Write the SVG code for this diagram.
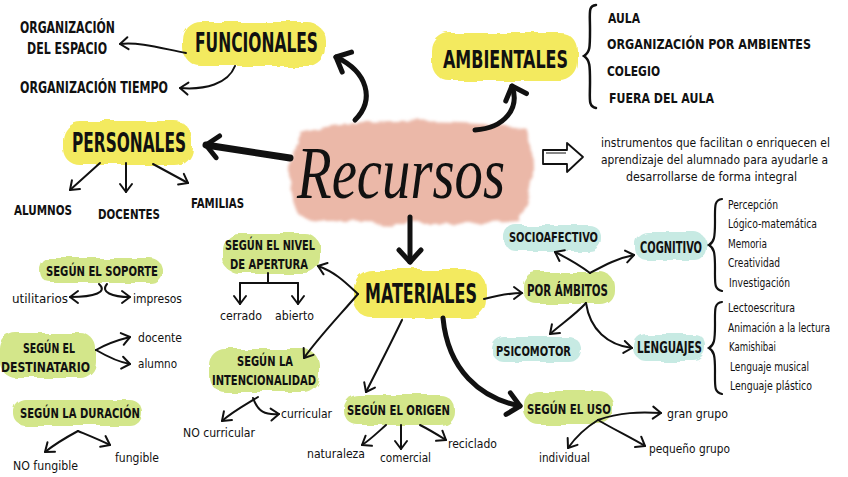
<svg xmlns="http://www.w3.org/2000/svg" width="848" height="477" viewBox="0 0 848 477">
<defs>
<filter id="rough" x="-10%" y="-20%" width="120%" height="140%">
<feTurbulence type="fractalNoise" baseFrequency="0.05" numOctaves="2" seed="3"/>
<feDisplacementMap in="SourceGraphic" scale="7"/>
</filter>
<filter id="roughp" x="-10%" y="-20%" width="120%" height="140%">
<feTurbulence type="fractalNoise" baseFrequency="0.04" numOctaves="3" seed="7"/>
<feDisplacementMap in="SourceGraphic" scale="12"/>
<feGaussianBlur stdDeviation="1.5"/>
</filter>
<marker id="hs" markerUnits="userSpaceOnUse" markerWidth="20" markerHeight="20" refX="0" refY="0" viewBox="-12 -10 20 20" orient="auto" overflow="visible">
<path d="M-8,-6 L0,0 L-8,6" fill="none" stroke="#111" stroke-width="2" stroke-linecap="round" stroke-linejoin="round"/>
</marker>
<marker id="hb" markerUnits="userSpaceOnUse" markerWidth="30" markerHeight="30" refX="0" refY="0" viewBox="-20 -15 30 30" orient="auto" overflow="visible">
<path d="M-12,-11 L0,0 L-12,11" fill="none" stroke="#111" stroke-width="5" stroke-linecap="round" stroke-linejoin="round"/>
</marker>
<style>
.y{fill:#f3ea5f;filter:url(#rough)}
.g{fill:#d3e68a;filter:url(#rough)}
.t{fill:#c7eae3;filter:url(#rough)}
.p{fill:#ebb8a8;filter:url(#roughp)}
.h{font-family:"DejaVu Sans Condensed","DejaVu Sans",sans-serif;font-weight:bold;fill:#111}
.c{font-family:"DejaVu Sans Condensed","DejaVu Sans",sans-serif;fill:#111}
.s{fill:none;stroke:#111;stroke-width:2;stroke-linecap:round;marker-end:url(#hs)}
.b{fill:none;stroke:#111;stroke-width:5;stroke-linecap:round;marker-end:url(#hb)}
.l{fill:none;stroke:#111;stroke-width:2;stroke-linecap:round}
</style>
</defs>
<rect width="848" height="477" fill="#fff"/>

<g id="recursos">
<path class="p" d="M300,132 C340,120 470,118 526,128 C538,160 534,200 518,220 C450,226 340,226 300,216 C288,190 288,160 300,132 Z"/>
<text x="297" y="198" font-family="Liberation Serif,serif" font-style="italic" font-size="74" textLength="208" lengthAdjust="spacingAndGlyphs" fill="#111">Recursos</text>
</g>

<g id="funcionales">
<rect class="y" x="183" y="22" width="142" height="44" rx="18"/>
<text class="h" x="195" y="52" font-size="26" textLength="123" lengthAdjust="spacingAndGlyphs">FUNCIONALES</text>
</g>
<g id="org-espacio">
<text class="h" x="20" y="33" font-size="15" textLength="95" lengthAdjust="spacingAndGlyphs">ORGANIZACIÓN</text>
<text class="h" x="27" y="54" font-size="15" textLength="80" lengthAdjust="spacingAndGlyphs">DEL ESPACIO</text>
</g>
<g id="org-tiempo">
<text class="h" x="20" y="93" font-size="15" textLength="148" lengthAdjust="spacingAndGlyphs">ORGANIZACIÓN TIEMPO</text>
</g>

<g id="ambientales">
<rect class="y" x="432" y="33" width="146" height="48" rx="18"/>
<text class="h" x="443" y="68" font-size="24" textLength="125" lengthAdjust="spacingAndGlyphs">AMBIENTALES</text>
</g>
<g id="ambientales-lista">
<path class="l" d="M596,5 C588,6 590,12 590,30 C590,48 590,52 584,56 C590,60 590,66 590,82 C590,100 588,106 596,108" style="stroke-width:2.5"/>
<text class="h" x="608" y="23" font-size="13.5" textLength="32" lengthAdjust="spacingAndGlyphs">AULA</text>
<text class="h" x="607" y="49" font-size="13.5" textLength="204" lengthAdjust="spacingAndGlyphs">ORGANIZACIÓN POR AMBIENTES</text>
<text class="h" x="607" y="76" font-size="13.5" textLength="53" lengthAdjust="spacingAndGlyphs">COLEGIO</text>
<text class="h" x="609" y="103" font-size="13.5" textLength="105" lengthAdjust="spacingAndGlyphs">FUERA DEL AULA</text>
</g>

<g id="personales">
<rect class="y" x="62" y="121" width="130" height="44" rx="18"/>
<text class="h" x="72" y="152" font-size="26" textLength="114" lengthAdjust="spacingAndGlyphs">PERSONALES</text>
</g>
<g id="alumnos"><text class="h" x="14" y="215" font-size="14" textLength="58" lengthAdjust="spacingAndGlyphs">ALUMNOS</text></g>
<g id="docentes"><text class="h" x="98" y="219" font-size="14" textLength="62" lengthAdjust="spacingAndGlyphs">DOCENTES</text></g>
<g id="familias"><text class="h" x="191" y="208" font-size="14" textLength="53" lengthAdjust="spacingAndGlyphs">FAMILIAS</text></g>

<g id="definicion">
<path d="M543,150 L567,150 L567,143 L583,157 L567,172 L567,164 L543,164 Z" fill="#fff" stroke="#111" stroke-width="1.8" stroke-linejoin="round"/>
<path d="M546,153 L566,153" stroke="#111" stroke-width="1" fill="none"/>
<text class="c" x="601" y="147" font-size="13" textLength="229" lengthAdjust="spacingAndGlyphs">instrumentos que facilitan o enriquecen el</text>
<text class="c" x="601" y="164" font-size="13" textLength="227" lengthAdjust="spacingAndGlyphs">aprendizaje del alumnado para ayudarle a</text>
<text class="c" x="626" y="181" font-size="13" textLength="171" lengthAdjust="spacingAndGlyphs">desarrollarse de forma integral</text>
</g>

<g id="materiales">
<rect class="y" x="354" y="270" width="132" height="48" rx="18"/>
<text class="h" x="365" y="303" font-size="26" textLength="112" lengthAdjust="spacingAndGlyphs">MATERIALES</text>
</g>

<g id="nivel-apertura">
<rect class="g" x="222" y="233" width="98" height="40" rx="16"/>
<text class="h" x="225" y="250" font-size="14" textLength="90" lengthAdjust="spacingAndGlyphs">SEGÚN EL NIVEL</text>
<text class="h" x="230" y="269" font-size="14" textLength="78" lengthAdjust="spacingAndGlyphs">DE APERTURA</text>
</g>
<g id="cerrado"><text class="c" x="220" y="320" font-size="13" textLength="42" lengthAdjust="spacingAndGlyphs">cerrado</text></g>
<g id="abierto"><text class="c" x="275" y="320" font-size="13" textLength="39" lengthAdjust="spacingAndGlyphs">abierto</text></g>

<g id="intencionalidad">
<rect class="g" x="209" y="349" width="110" height="43" rx="16"/>
<text class="h" x="237" y="366" font-size="14" textLength="56" lengthAdjust="spacingAndGlyphs">SEGÚN LA</text>
<text class="h" x="212" y="385" font-size="14" textLength="104" lengthAdjust="spacingAndGlyphs">INTENCIONALIDAD</text>
</g>
<g id="curricular"><text class="c" x="281" y="418" font-size="13" textLength="51" lengthAdjust="spacingAndGlyphs">curricular</text></g>
<g id="no-curricular"><text class="c" x="183" y="437" font-size="13" textLength="72" lengthAdjust="spacingAndGlyphs">NO curricular</text></g>

<g id="origen">
<rect class="g" x="344" y="395" width="110" height="30" rx="14"/>
<text class="h" x="347" y="415" font-size="14" textLength="103" lengthAdjust="spacingAndGlyphs">SEGÚN EL ORIGEN</text>
</g>
<g id="naturaleza"><text class="c" x="307" y="458" font-size="13" textLength="58" lengthAdjust="spacingAndGlyphs">naturaleza</text></g>
<g id="comercial"><text class="c" x="380" y="462" font-size="13" textLength="51" lengthAdjust="spacingAndGlyphs">comercial</text></g>
<g id="reciclado"><text class="c" x="448" y="448" font-size="13" textLength="49" lengthAdjust="spacingAndGlyphs">reciclado</text></g>

<g id="uso">
<rect class="g" x="524" y="391" width="89" height="33" rx="14"/>
<text class="h" x="527" y="414" font-size="14" textLength="84" lengthAdjust="spacingAndGlyphs">SEGÚN EL USO</text>
</g>
<g id="gran-grupo"><text class="c" x="667" y="418" font-size="13" textLength="61" lengthAdjust="spacingAndGlyphs">gran grupo</text></g>
<g id="pequeno-grupo"><text class="c" x="649" y="453" font-size="13" textLength="81" lengthAdjust="spacingAndGlyphs">pequeño grupo</text></g>
<g id="individual"><text class="c" x="539" y="462" font-size="13" textLength="51" lengthAdjust="spacingAndGlyphs">individual</text></g>

<g id="por-ambitos">
<rect class="g" x="523" y="272" width="91" height="32" rx="14"/>
<text class="h" x="527" y="296" font-size="15" textLength="81" lengthAdjust="spacingAndGlyphs">POR ÁMBITOS</text>
</g>
<g id="socioafectivo">
<rect class="t" x="504" y="225" width="97" height="26" rx="12"/>
<text class="h" x="509" y="242" font-size="14" textLength="89" lengthAdjust="spacingAndGlyphs">SOCIOAFECTIVO</text>
</g>
<g id="cognitivo">
<rect class="t" x="635" y="232" width="71" height="28" rx="12"/>
<text class="h" x="640" y="253" font-size="15" textLength="62" lengthAdjust="spacingAndGlyphs">COGNITIVO</text>
</g>
<g id="psicomotor">
<rect class="t" x="492" y="337" width="89" height="25" rx="12"/>
<text class="h" x="496" y="356" font-size="14" textLength="75" lengthAdjust="spacingAndGlyphs">PSICOMOTOR</text>
</g>
<g id="lenguajes">
<rect class="t" x="634" y="334" width="72" height="27" rx="12"/>
<text class="h" x="637" y="353" font-size="15" textLength="65" lengthAdjust="spacingAndGlyphs">LENGUAJES</text>
</g>

<g id="cognitivo-lista">
<path class="l" d="M722,199 C714,200 715,206 715,222 C715,238 714,242 709,245 C714,248 715,252 715,268 C715,284 714,289 722,291" style="stroke-width:2.2"/>
<text class="c" x="728" y="209" font-size="11.5" textLength="50" lengthAdjust="spacingAndGlyphs">Percepción</text>
<text class="c" x="728" y="228" font-size="11.5" textLength="89" lengthAdjust="spacingAndGlyphs">Lógico-matemática</text>
<text class="c" x="728" y="248" font-size="11.5" textLength="39" lengthAdjust="spacingAndGlyphs">Memoria</text>
<text class="c" x="728" y="267" font-size="11.5" textLength="52" lengthAdjust="spacingAndGlyphs">Creatividad</text>
<text class="c" x="729" y="287" font-size="11.5" textLength="61" lengthAdjust="spacingAndGlyphs">Investigación</text>
</g>
<g id="lenguajes-lista">
<path class="l" d="M722,302 C714,303 715,309 715,325 C715,341 714,345 709,348 C714,351 715,355 715,371 C715,387 714,392 722,394" style="stroke-width:2.2"/>
<text class="c" x="728" y="312" font-size="11.5" textLength="67" lengthAdjust="spacingAndGlyphs">Lectoescritura</text>
<text class="c" x="728" y="332" font-size="11.5" textLength="102" lengthAdjust="spacingAndGlyphs">Animación a la lectura</text>
<text class="c" x="729" y="351" font-size="11.5" textLength="47" lengthAdjust="spacingAndGlyphs">Kamishibai</text>
<text class="c" x="730" y="371" font-size="11.5" textLength="79" lengthAdjust="spacingAndGlyphs">Lenguaje musical</text>
<text class="c" x="730" y="390" font-size="11.5" textLength="82" lengthAdjust="spacingAndGlyphs">Lenguaje plástico</text>
</g>

<g id="soporte">
<rect class="g" x="40" y="258" width="122" height="25" rx="12"/>
<text class="h" x="46" y="276" font-size="14" textLength="112" lengthAdjust="spacingAndGlyphs">SEGÚN EL SOPORTE</text>
</g>
<g id="utilitarios"><text class="c" x="12" y="303" font-size="13" textLength="56" lengthAdjust="spacingAndGlyphs">utilitarios</text></g>
<g id="impresos"><text class="c" x="133" y="303" font-size="13" textLength="49" lengthAdjust="spacingAndGlyphs">impresos</text></g>

<g id="destinatario">
<rect class="g" x="0" y="333" width="96" height="45" rx="16"/>
<text class="h" x="23" y="353" font-size="14" textLength="52" lengthAdjust="spacingAndGlyphs">SEGÚN EL</text>
<text class="h" x="1" y="372" font-size="14" textLength="89" lengthAdjust="spacingAndGlyphs">DESTINATARIO</text>
</g>
<g id="docente"><text class="c" x="138" y="342" font-size="13" textLength="44" lengthAdjust="spacingAndGlyphs">docente</text></g>
<g id="alumno"><text class="c" x="138" y="368" font-size="13" textLength="39" lengthAdjust="spacingAndGlyphs">alumno</text></g>

<g id="duracion">
<rect class="g" x="14" y="400" width="128" height="26" rx="12"/>
<text class="h" x="20" y="418" font-size="14" textLength="120" lengthAdjust="spacingAndGlyphs">SEGÚN LA DURACIÓN</text>
</g>
<g id="no-fungible"><text class="c" x="13" y="470" font-size="13" textLength="65" lengthAdjust="spacingAndGlyphs">NO fungible</text></g>
<g id="fungible"><text class="c" x="115" y="462" font-size="13" textLength="44" lengthAdjust="spacingAndGlyphs">fungible</text></g>

<g id="connectors">
<path class="s" d="M186,53 C160,48 140,42 120,44"/>
<path class="s" d="M235,66 C228,84 205,90 180,88"/>
<path class="b" d="M355,120 C375,100 368,72 336,57"/>
<path class="b" d="M475,130 C505,128 520,108 512,86"/>
<path class="b" d="M290,158 L206,145" style="stroke-width:7"/>
<path class="s" d="M100,163 L70,190"/>
<path class="s" d="M126,163 L126,192"/>
<path class="s" d="M153,164 L188,183"/>
<path class="b" d="M410,217 L410,262"/>
<path class="s" d="M358,294 C345,282 335,272 318,266"/>
<path class="s" d="M358,294 C340,315 318,338 304,358"/>
<path class="s" d="M402,320 C390,345 378,368 366,392"/>
<path class="b" d="M443,318 C448,370 480,398 520,406"/>
<path class="s" d="M484,299 C496,296 508,293 522,293"/>
<path class="s" d="M590,273 C578,264 567,258 555,252"/>
<path class="s" d="M590,273 C605,265 618,258 634,255"/>
<path class="s" d="M586,303 C575,315 560,325 550,334"/>
<path class="s" d="M586,303 C590,330 608,345 632,348"/>
<path class="l" d="M268,273 L268,283 M240,283 L298,283"/>
<path class="s" d="M240,283 L240,304"/>
<path class="s" d="M298,283 L298,304"/>
<path class="s" d="M258,397 C245,405 232,412 222,421"/>
<path class="s" d="M253,398 C258,412 265,415 279,414"/>
<path class="s" d="M386,425 C378,432 370,440 362,445"/>
<path class="s" d="M401,425 L401,449"/>
<path class="s" d="M420,425 C430,430 438,435 446,440"/>
<path class="s" d="M598,420 C620,412 640,412 661,413"/>
<path class="s" d="M598,420 C615,430 630,437 645,446"/>
<path class="s" d="M598,420 C585,428 575,438 568,448"/>
<path class="s" d="M99,284 C108,292 95,297 70,297"/>
<path class="s" d="M107,284 C100,292 112,297 130,297"/>
<path class="s" d="M96,350 C108,343 118,340 130,337"/>
<path class="s" d="M96,350 C108,357 118,362 130,364"/>
<path class="s" d="M78,431 C65,438 55,444 45,452"/>
<path class="s" d="M78,431 C90,436 100,440 110,445"/>
</g>
</svg>
